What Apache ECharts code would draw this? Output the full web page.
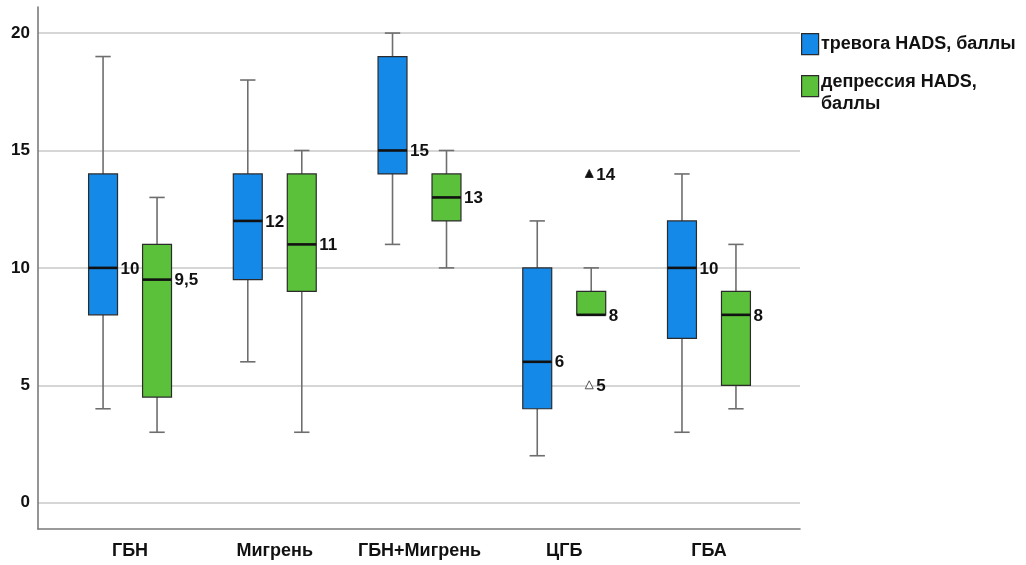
<!DOCTYPE html>
<html><head><meta charset="utf-8">
<script src="https://cdn.jsdelivr.net/npm/echarts@6/dist/echarts.min.js"></script>
<style>html,body{margin:0;padding:0;background:#fff}#c{width:1026px;height:565px}</style>
</head><body><div id="c"></div>
<script>
const categories = ['ГБН', 'Мигрень', 'ГБН+Мигрень', 'ЦГБ', 'ГБА'];
const seriesNames = ['тревога HADS, баллы', 'депрессия HADS, баллы'];
// [min, Q1, median, Q3, max]
const anxiety = [[4, 8, 10, 14, 19], [6, 9.5, 12, 14, 18], [11, 14, 15, 19, 20], [2, 4, 6, 10, 12], [3, 7, 10, 12, 14]];
const depression = [[3, 4.5, 9.5, 11, 13], [3, 9, 11, 14, 15], [10, 12, 13, 14, 15], [8, 8, 8, 9, 10], [4, 5, 8, 9, 11]];
const anxietyMedianLabels = ['10', '12', '15', '6', '10'];
const depressionMedianLabels = ['9,5', '11', '13', '8', '8'];
// [category index, value, label]
const depressionOutliersFilled = [[3, 14, '14']];
const depressionOutliersOpen = [[3, 5, '5']];
const yTicks = [0, 5, 10, 15, 20];
const xTicks = categories.map((c, i) => i);

const FONT = 'bold 17px "Liberation Sans", Arial, sans-serif';
const BLUE = '#1589E8', GREEN = '#5CC13A';

function boxRender(offsetUnits, color, labels) {
  return function (params, api) {
    const i = api.value(0);
    const unit = api.size([1, 0])[0];
    const cx = api.coord([i, 0])[0] + offsetUnits * unit;
    const hw = 0.1 * unit, cw = 0.053 * unit;
    const y = k => api.coord([i, api.value(k)])[1];
    const yMin = y(1), yQ1 = y(2), yMed = y(3), yQ3 = y(4), yMax = y(5);
    const ws = { stroke: '#6e6e6e', lineWidth: 1.6 };
    const ch = [];
    if (yMax < yQ3 - 0.5) {
      ch.push({ type: 'line', shape: { x1: cx, y1: yQ3, x2: cx, y2: yMax }, style: ws });
      ch.push({ type: 'line', shape: { x1: cx - cw, y1: yMax, x2: cx + cw, y2: yMax }, style: ws });
    }
    if (yMin > yQ1 + 0.5) {
      ch.push({ type: 'line', shape: { x1: cx, y1: yQ1, x2: cx, y2: yMin }, style: ws });
      ch.push({ type: 'line', shape: { x1: cx - cw, y1: yMin, x2: cx + cw, y2: yMin }, style: ws });
    }
    ch.push({ type: 'rect', shape: { x: cx - hw, y: yQ3, width: 2 * hw, height: yQ1 - yQ3 },
      style: { fill: color, stroke: '#2b2b2b', lineWidth: 1.2 } });
    ch.push({ type: 'line', shape: { x1: cx - hw, y1: yMed, x2: cx + hw, y2: yMed },
      style: { stroke: '#111', lineWidth: 2.6 } });
    ch.push({ type: 'text', x: cx + hw + 3, y: yMed + 1,
      style: { text: labels[params.dataIndex], font: FONT, fill: '#111', align: 'left', verticalAlign: 'middle' } });
    return { type: 'group', children: ch };
  };
}

function outlierRender(offsetUnits, filled) {
  return function (params, api) {
    const i = api.value(0);
    const unit = api.size([1, 0])[0];
    const p = api.coord([i, api.value(1)]);
    const cx = p[0] + offsetUnits * unit - 2, cy = p[1];
    const lbl = (filled ? depressionOutliersFilled : depressionOutliersOpen)[params.dataIndex][2];
    return { type: 'group', children: [
      { type: 'polygon', shape: { points: [[cx, cy - 4.5], [cx - 4, cy + 3.5], [cx + 4, cy + 3.5]] },
        style: filled ? { fill: '#111', stroke: '#111', lineWidth: 0.8 } : { fill: '#fff', stroke: '#555', lineWidth: 1 } },
      { type: 'text', x: cx + 7, y: cy + 1,
        style: { text: lbl, font: FONT, fill: '#111', align: 'left', verticalAlign: 'middle' } }
    ] };
  };
}

const chart = echarts.init(document.getElementById('c'), null, { renderer: 'canvas' });
chart.setOption({
  backgroundColor: '#fff',
  animation: false,
  grid: { left: 38, right: 226, top: 7, bottom: 36, containLabel: false },
  xAxis: {
    type: 'value', min: -0.636, max: 4.629,
    axisLine: { show: true, onZero: false, lineStyle: { color: '#7a7a7a', width: 1.6 } },
    axisTick: { show: false, customValues: xTicks },
    splitLine: { show: false },
    axisLabel: { customValues: xTicks, margin: 13, formatter: v => categories[Math.round(v)] || '',
      color: '#111', fontFamily: '"Liberation Sans", Arial, sans-serif', fontWeight: 'bold', fontSize: 18 }
  },
  yAxis: {
    type: 'value', min: -1.12, max: 21.11,
    axisLine: { show: true, onZero: false, lineStyle: { color: '#7a7a7a', width: 1.6 } },
    axisTick: { show: false, customValues: yTicks },
    splitLine: { show: true, lineStyle: { color: '#d6d6d6', width: 2 } },
    axisLabel: { customValues: yTicks, margin: 8, color: '#111',
      fontFamily: '"Liberation Sans", Arial, sans-serif', fontWeight: 'bold', fontSize: 17 }
  },
  series: [
    { type: 'custom', name: seriesNames[0], renderItem: boxRender(-0.1865, BLUE, anxietyMedianLabels),
      encode: { x: 0, y: [1, 2, 3, 4, 5] }, data: anxiety.map((d, i) => [i].concat(d)), z: 3 },
    { type: 'custom', name: seriesNames[1], renderItem: boxRender(0.1865, GREEN, depressionMedianLabels),
      encode: { x: 0, y: [1, 2, 3, 4, 5] }, data: depression.map((d, i) => [i].concat(d)), z: 3 },
    { type: 'custom', name: 'outliers', renderItem: outlierRender(0.1865, true),
      encode: { x: 0, y: 1 }, data: depressionOutliersFilled.map(d => [d[0], d[1]]), z: 4 },
    { type: 'custom', name: 'extremes', renderItem: outlierRender(0.1865, false),
      encode: { x: 0, y: 1 }, data: depressionOutliersOpen.map(d => [d[0], d[1]]), z: 4 }
  ],
  graphic: [
    { type: 'rect', left: 801, top: 33, shape: { width: 17, height: 21 }, style: { fill: BLUE, stroke: '#2b2b2b', lineWidth: 1.2 } },
    { type: 'text', left: 821, top: 35, style: { text: seriesNames[0], font: 'bold 18px "Liberation Sans", Arial, sans-serif', fill: '#111' } },
    { type: 'rect', left: 801, top: 75, shape: { width: 17, height: 21 }, style: { fill: GREEN, stroke: '#2b2b2b', lineWidth: 1.2 } },
    { type: 'text', left: 821, top: 71, style: { text: 'депрессия HADS,\nбаллы', lineHeight: 22, font: 'bold 18px "Liberation Sans", Arial, sans-serif', fill: '#111' } }
  ]
});
</script>
</body></html>
